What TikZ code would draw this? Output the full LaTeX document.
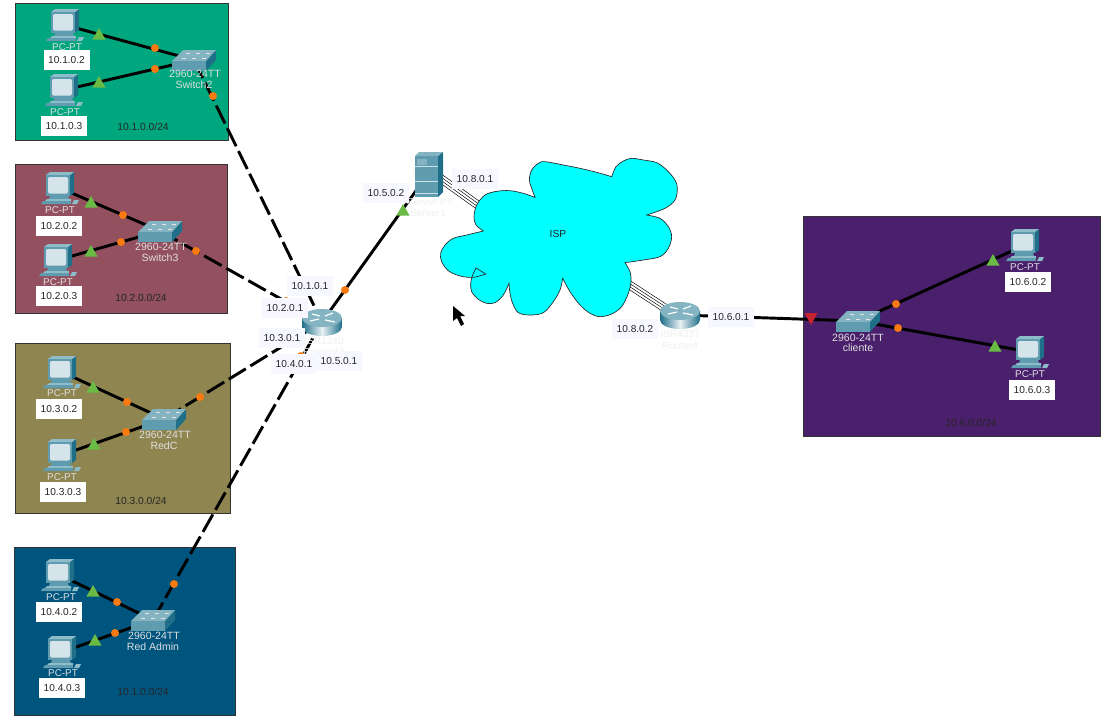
\documentclass[tikz,border=0pt]{standalone}
\usepackage{fontspec}
\setmainfont{Liberation Sans}
\tikzset{
  zone/.style={draw=black!80,line width=0.6pt},
  anchorpt/.style={inner sep=0pt,minimum size=1pt},
  wire/.style={line width=2.2pt,black},
  dashwire/.style={line width=2.2pt,black,dash pattern=on 15pt off 4pt},
  serial/.style={line width=0.35pt,black},
  ipbox/.style={fill=white,minimum width=34.5pt,minimum height=15pt,inner sep=0pt,font=\fontsize{7.6}{8}\selectfont,text=black!85},
  iplabel/.style={fill=blue!3,minimum width=34.5pt,minimum height=15pt,inner sep=0pt,font=\fontsize{7.6}{8}\selectfont,text=black!85},
  devlabel/.style={inner sep=0pt,font=\fontsize{7.4}{8}\selectfont,text=white!88!black},
  swlabel/.style={inner sep=0pt,font=\fontsize{7.9}{8}\selectfont,text=white!88!black},
  faint/.style={inner sep=0pt,font=\fontsize{7.6}{8}\selectfont,text=black!6},
  netlabel/.style={inner sep=0pt,font=\fontsize{7.7}{8}\selectfont,text=black!85},
  pics/pcicon/.style={code={
    \fill[pcdark] (10,-13)--(14,-16)--(14,5)--(10,8)--cycle;
    \fill[pclite] (-14,-13)--(-10,-16)--(14,-16)--(10,-13)--cycle;
    \fill[pcmid] (-14,-13) rectangle (10,8);
    \fill[pcscreen,rounded corners=1pt] (-12,-11) rectangle (8,5.5);
    \fill[pcmid] (-10,8) -- (8,8) -- (9,11) -- (-11,11) --cycle;
    \fill[pclite] (-13,11)--(11,11)--(11,13)--(-15,13)--cycle;
    \fill[pcmid] (-17,13)--(11,13)--(11,16)--(-19,16)--cycle;
    \fill[pclite] (14,12)--(19,12)--(17,16)--(12,16)--cycle;
  }},
  pics/swicon/.style={code={
    \fill[pcdark] (12,1)--(22,-10)--(22,0)--(12,11)--cycle;
    \fill[swtop] (-22,1)--(-11,-10)--(22,-10)--(12,1)--cycle;
    \fill[pcmid] (-22,1) rectangle (12,11);
    \foreach \a/\b in {-8/-7,2/-7,12/-7,-12/-2,-2/-2,8/-2}
      \fill[white!90!black] (\a,\b) rectangle +(3.5,1);
  }},
  pics/routericon/.style={code={
    \path[left color=pcdark,right color=pcdark,middle color=white!85!pcmid]
      (-20,-4) -- (-20,5) arc[start angle=180,end angle=0,x radius=20,y radius=9] -- (20,-4) -- cycle;
    \fill[swtop] (0,-4) ellipse[x radius=20,y radius=9];
    \draw[white,line width=0.9pt] (-12,-1)--(-3,-3) (3,-6)--(11,-9) (-10,-8)--(-2,-6) (3,-2)--(13,0);
  }},
  pics/srvicon/.style={code={
    \fill[pcdark] (10,-18)--(15,-22)--(15,18)--(10,23)--cycle;
    \fill[swtop] (-13,-18)--(-9,-22)--(15,-22)--(10,-18)--cycle;
    \fill[pcmid] (-13,-18) rectangle (10,23);
    \fill[swtop] (-11,-15) rectangle (-1,-9);
    \draw[white!70!pcmid,line width=0.4pt] (-13,-8)--(10,-8) (-13,7)--(10,7) (-13,19)--(10,19);
  }},
  pics/upmark/.style={code={\fill[mgreen] (-6.5,5.5)--(0,-6)--(6.5,5.5)--cycle;}},
  pics/downmark/.style={code={\fill[mred] (-6.5,-6)--(0,6)--(6.5,-6)--cycle;}},
  pics/linkdot/.style={code={\fill[morange] (0,0) circle[radius=4];}},
}
\definecolor{pcdark}{HTML}{1F6F88}
\definecolor{pcmid}{HTML}{5F9CB0}
\definecolor{pclite}{HTML}{8FBCC9}
\definecolor{pcscreen}{HTML}{D5E4EA}
\definecolor{swtop}{HTML}{84B3C1}
\definecolor{mgreen}{HTML}{6ABB45}
\definecolor{mred}{HTML}{C4232F}
\definecolor{morange}{HTML}{F97A10}
\definecolor{zonea}{HTML}{00A67D}
\definecolor{zoneb}{HTML}{93505F}
\definecolor{zonec}{HTML}{8F8550}
\definecolor{zoned}{HTML}{00557F}
\definecolor{zonee}{HTML}{4A1F6B}
\definecolor{cloudc}{HTML}{00FFFF}
\begin{document}
\begin{tikzpicture}[x=0.75pt,y=-0.75pt]
\useasboundingbox (0,0) rectangle (1117,721);
\fill[white] (0,0) rectangle (1117,721);
% zones
\filldraw[zone,fill=zonea] (15,3) rectangle (228,140);
\filldraw[zone,fill=zoneb] (15,164) rectangle (227,313);
\filldraw[zone,fill=zonec] (15,343) rectangle (230,513);
\filldraw[zone,fill=zoned] (14,547) rectangle (235,715);
\filldraw[zone,fill=zonee] (803,216) rectangle (1100,436);
% anchors
\foreach \n/\x/\y in {pcaa/65/25,pcab/64/90,swa/194/60,
  pcba/60/188,pcbb/58/260,swb/160/231,
  pcca/62/372,pccb/62/455,swc/164/419,
  pcda/60/575,pcdb/62/652,swd/153/620,
  pcea/1025/245,pceb/1030/352,swe/858/321,
  rtra/322/322,rtrb/680/315,srv/428/174,
  srvport/440/178,cloudin/482/208,cloudout/628/284,rtrport/668/310}
  \node[anchorpt] (\n) at (\x,\y) {};
% connectors
\draw[dashwire] (swa.center)--(rtra.center);
\draw[dashwire] (swb.center)--(rtra.center);
\draw[dashwire] (swc.center)--(rtra.center);
\draw[dashwire] (swd.center)--(rtra.center);
\draw[wire] (rtra.center)--(srv.center);
\draw[wire] (rtrb.center)--(swe.center);
\foreach \p/\s in {pcaa/swa,pcab/swa,pcba/swb,pcbb/swb,pcca/swc,pccb/swc,pcda/swd,pcdb/swd,pcea/swe,pceb/swe}
  \draw[wire] (\p.center)--(\s.center);
\foreach \t in {-4,-1.35,1.35,4}{
  \draw[serial] ([shift={({0.6*\t*0.75pt},{0.8*\t*0.75pt})}]srvport.center)--([shift={({0.6*\t*0.75pt},{0.8*\t*0.75pt})}]cloudin.center);
  \draw[serial] ([shift={({0.55*\t*0.75pt},{0.83*\t*0.75pt})}]cloudout.center)--([shift={({0.55*\t*0.75pt},{0.83*\t*0.75pt})}]rtrport.center);
}
% cloud
\begin{scope}[shift={(430,150)},x=0.25pt,y=-0.25pt]
\filldraw[fill=cloudc,draw=black!85,line width=0.5pt]
  plot[smooth,tension=.55] coordinates {(545,80)(558,50)(580,33)(605,25)(640,30)(680,38)(710,60)(735,90)(742,115)(735,150)(705,175)(650,195)}
  -- plot[smooth,tension=.55] coordinates {(650,195)(690,205)(715,230)(725,260)(715,295)(690,320)(640,330)(585,338)}
  -- plot[smooth,tension=.55] coordinates {(585,338)(600,365)(603,395)(595,430)(575,470)(545,492)(510,500)(480,490)(450,465)(420,425)(398,385)}
  -- plot[smooth,tension=.55] coordinates {(398,385)(390,420)(370,455)(340,488)(300,495)(265,488)(248,460)(240,430)(237,400)}
  -- plot[smooth,tension=.55] coordinates {(237,400)(220,435)(195,458)(170,460)(145,448)(125,425)(122,400)(127,378)(138,354)}
  -- (167,372)
  -- plot[smooth,tension=.55] coordinates {(167,372)(130,382)(90,378)(55,362)(35,335)(32,310)(45,285)(70,265)(110,255)(160,243)}
  -- plot[smooth,tension=.55] coordinates {(160,243)(138,225)(132,200)(140,165)(165,135)(200,124)(240,122)(280,130)(315,142)}
  -- plot[smooth,tension=.55] coordinates {(315,142)(305,115)(298,90)(305,60)(325,40)(345,35)(400,45)(450,55)(500,67)(545,80)}
  -- cycle;
\end{scope}
\node[netlabel] (isp) at (558,234) {ISP};
% icons
\foreach \n in {pcaa,pcab,pcba,pcbb,pcca,pccb,pcda,pcdb,pcea,pceb}
  \pic at (\n) {pcicon};
\foreach \n in {swa,swb,swc,swd,swe}
  \pic at (\n) {swicon};
\pic at (rtra) {routericon};
\pic at (rtrb) {routericon};
\pic at (srv) {srvicon};
% link markers
\foreach \x/\y in {99/34,99/82,91/202,91/251,93/387,94/444,93/591,95/640,403/210,993/260,995/346}
  \pic at (\x,\y) {upmark};
\pic at (811,319) {downmark};
\foreach \x/\y in {155/48,155/69,213/96,123/215,121/242,196/251,127/402,126/432,200/397,117/602,115/633,174/584,345/290,896/304,898/328,286/301,301/356}
  \pic at (\x,\y) {linkdot};
% device labels
\foreach \n/\x/\y/\t in {la/67/47/PC-PT,lb/65/112/PC-PT,
  le/60/210/PC-PT,lf/58/282/PC-PT,
  li/62/393/PC-PT,lj/62/477/PC-PT,
  lm/61/597/PC-PT,ln/63/673/PC-PT,
  lq/1025/267/PC-PT,lr/1030/374/PC-PT}
  \node[devlabel] (\n) at (\x,\y) {\t};
\foreach \n/\x/\y/\t in {lc/195/74/2960-24TT,ld/194/85/Switch2,lg/161/247/2960-24TT,lh/160/258/Switch3,
  lk/165/435/2960-24TT,ll/164/446/RedC,lo/154/636/2960-24TT,lp/153/647/Red Admin,ls/858/338/2960-24TT,lt/858/348/cliente}
  \node[swlabel] (\n) at (\x,\y) {\t};
\foreach \n/\x/\y/\t in {fa/324/341/ISR1240,fb/324/352/Router14,fc/430/202/Server-PT,fd/428/213/Server1,fe/680/334/ISR4331,ff/680/346/Router4}
  \node[faint] (\n) at (\x,\y) {\t};
% white address boxes
\foreach \n/\x/\y/\t in {ba/66.5/60/10.1.0.2,bb/64/126/10.1.0.3,bc/59/226/10.2.0.2,bd/59/296/10.2.0.3,
  be/59/409/10.3.0.2,bf/63/492/10.3.0.3,bg/59/612/10.4.0.2,bh/62/688/10.4.0.3,
  bi/1028/282/10.6.0.2,bj/1032/390/10.6.0.3}
  \node[ipbox] (\n) at (\x,\y) {\t};
% interface labels
\foreach \n/\x/\y/\t in {ia/310/286/10.1.0.1,ib/285/308/10.2.0.1,ic/282/338/10.3.0.1,id/294/364/10.4.0.1,
  ie/339/361/10.5.0.1,if/386/193/10.5.0.2,ig/475/179/10.8.0.1,ih/635/329/10.8.0.2,ii/731/317/10.6.0.1}
  \node[iplabel] (\n) at (\x,\y) {\t};
% subnet labels
\node[netlabel] (na) at (143,127) {10.1.0.0/24};
\node[netlabel] (nb) at (141,298) {10.2.0.0/24};
\node[netlabel] (nc) at (141,501) {10.3.0.0/24};
\node[netlabel] (nd) at (143,692) {10.1.0.0/24};
\node[netlabel] (ne) at (971,423) {10.6.0.0/24};
% cursor
\fill[black] (453,306)--(453,321)--(457,318)--(461,326)--(464,324)--(460,316)--(465,316)--cycle;
\end{tikzpicture}
\end{document}
